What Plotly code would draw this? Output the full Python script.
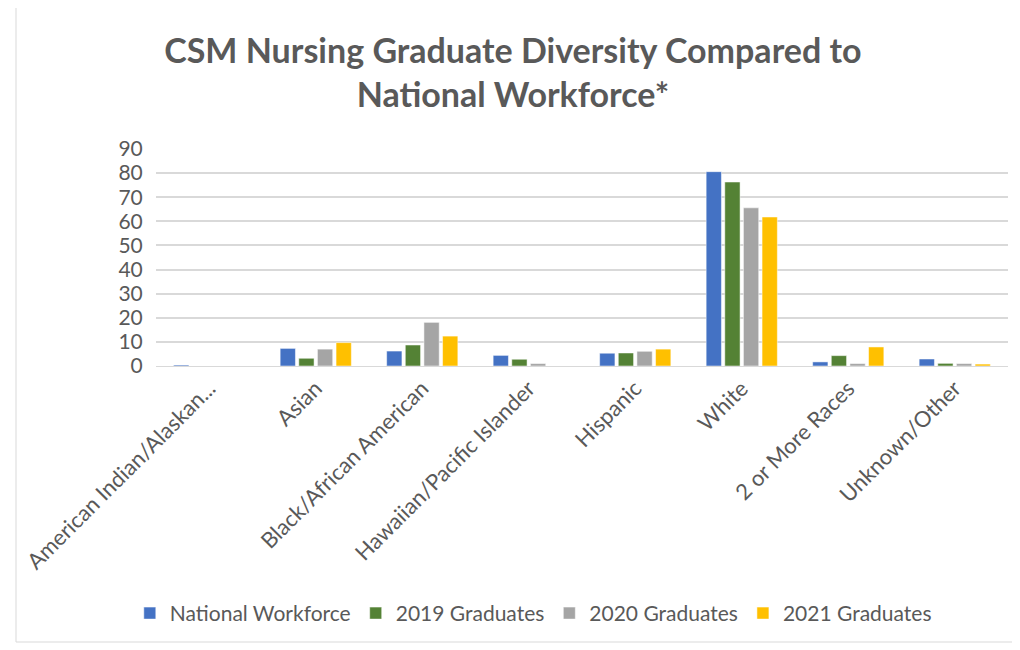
import plotly.graph_objects as go

categories = ["American Indian/Alaskan...", "Asian", "Black/African American",
              "Hawaiian/Pacific Islander", "Hispanic", "White",
              "2 or More Races", "Unknown/Other"]
national = [0.4, 7.3, 6.2, 4.4, 5.3, 80.6, 1.7, 2.9]
grad2019 = [0, 3.2, 8.7, 2.8, 5.4, 76.3, 4.3, 1.1]
grad2020 = [0, 7.0, 18.1, 1.0, 6.1, 65.6, 1.0, 1.0]
grad2021 = [0, 9.7, 12.4, 0, 7.0, 61.8, 7.9, 0.8]

series = [
    ("National Workforce", national, "#4472C4"),
    ("2019 Graduates", grad2019, "#548235"),
    ("2020 Graduates", grad2020, "#A5A5A5"),
    ("2021 Graduates", grad2021, "#FFC000"),
]

fig = go.Figure()
for name, vals, col in series:
    fig.add_trace(go.Bar(x=categories, y=vals, name=name,
                         marker=dict(color=col, line=dict(color="white", width=0.5))))

font = "Lato, 'Open Sans', sans-serif"
fig.update_layout(
    width=1020, height=650,
    paper_bgcolor="white", plot_bgcolor="white",
    barmode="group", bargap=0.3, bargroupgap=0.18,
    margin=dict(l=148, r=20, t=141, b=292, autoexpand=False),
    title=dict(text="<b>CSM Nursing Graduate Diversity Compared to<br>National Workforce*</b>",
               x=0.495, xref="container", xanchor="center",
               y=0.915, yref="container", yanchor="top",
               font=dict(family=font, size=34, color="#595959")),
    font=dict(family=font, color="#595959"),
    legend=dict(orientation="h", x=0.515, xref="container", xanchor="center",
                y=0.037, yref="container", yanchor="bottom",
                font=dict(size=21, color="#595959"), itemwidth=30,
                traceorder="normal"),
    xaxis=dict(tickangle=-45, tickfont=dict(size=22, color="#595959"),
               showline=True, linecolor="#d9d9d9", ticks="", automargin=False),
    yaxis=dict(range=[0, 90], dtick=10, showgrid=True, gridcolor="#d9d9d9",
               gridwidth=1.5, tickfont=dict(size=21, color="#595959"),
               zeroline=False, ticks="outside", ticklen=8, tickcolor="white",
               automargin=False),
    shapes=[dict(type="rect", xref="paper", yref="paper",
                 x0=-140/852, x1=1.0 + 12/852, y0=-276/217, y1=1 + 144/217,
                 line=dict(color="#d9d9d9", width=1), fillcolor="rgba(0,0,0,0)")],
)
fig.write_html("out.html")
